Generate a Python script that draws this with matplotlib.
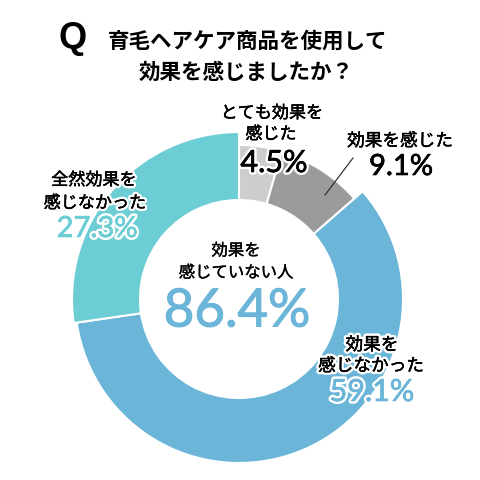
import matplotlib
matplotlib.use("Agg")
import matplotlib.pyplot as plt
import matplotlib.patheffects as pe

plt.rcParams['font.family'] = ['Noto Sans CJK JP', 'DejaVu Sans']

# data
categories = ["とても効果を感じた", "効果を感じた", "効果を感じなかった", "全然効果を感じなかった"]
values = [4.5, 9.1, 59.1, 27.3]
colors = ["#cdcdcd", "#9b9b9b", "#6bb5d8", "#6dcdd4"]
total_not = 86.4

# each slice has its own outer radius (px)
outer_r = [154, 153, 164, 167]
inner_r = 99
cx, cy = 239, 480 - 299

fig = plt.figure(figsize=(4.8, 4.8), dpi=100)
ax = fig.add_axes([0, 0, 1, 1])

for i, r in enumerate(outer_r):
    wedges, _ = ax.pie(values, radius=r, center=(cx, cy), startangle=90,
                       counterclock=False, colors=colors,
                       wedgeprops=dict(width=r - inner_r, edgecolor="white", linewidth=1.5))
    for j, w in enumerate(wedges):
        w.set_visible(j == i)

ax.set_xlim(0, 480)
ax.set_ylim(0, 480)
ax.set_aspect("equal")
ax.axis("off")


def Y(y):
    return 480 - y


def fx(color="black", white=True, bold=0.25):
    # white halo + slight thickening in the text colour
    eff = []
    if white:
        eff.append(pe.withStroke(linewidth=3.5 + bold, foreground="white"))
    eff += [pe.Stroke(linewidth=bold, foreground=color), pe.Normal()]
    return eff


num_font = ["Lato", "DejaVu Sans"]

# title
ax.text(73, Y(38), "Q", fontsize=26, fontweight="bold", family=["Liberation Sans"],
        ha="center", va="center")
ax.text(248, Y(41), "育毛ヘアケア商品を使用して", fontsize=15.5, fontweight="bold",
        ha="center", va="center")
ax.text(246, Y(72), "効果を感じましたか？", fontsize=15.5, fontweight="bold",
        ha="center", va="center")

# とても効果を感じた
ax.text(272, Y(113), "とても効果を", fontsize=12.3, ha="center", va="center", path_effects=fx())
ax.text(271, Y(134), "感じた", fontsize=12.3, ha="center", va="center", path_effects=fx())
ax.text(274, Y(163), f"{values[0]}%", fontsize=22, family=num_font, ha="center", va="center",
        path_effects=fx(bold=0.45))

# 効果を感じた
ax.text(400, Y(141), "効果を感じた", fontsize=12.7, ha="center", va="center", path_effects=fx())
ax.text(401, Y(167), f"{values[1]}%", fontsize=21, family=num_font, ha="center", va="center",
        path_effects=fx(bold=0.45))
ax.plot([353, 325], [Y(158), Y(195)], color="#222222", lw=0.8)

# 全然効果を感じなかった
ax.text(94, Y(180), "全然効果を", fontsize=12.3, ha="center", va="center", path_effects=fx())
ax.text(95, Y(203), "感じなかった", fontsize=12.3, ha="center", va="center", path_effects=fx())
ax.text(97, Y(229), f"{values[3]}%", fontsize=21, family=num_font, color=colors[3],
        ha="center", va="center", path_effects=fx(colors[3], bold=0.45))

# 効果を感じなかった
ax.text(372, Y(345), "効果を", fontsize=12.7, ha="center", va="center", path_effects=fx())
ax.text(371, Y(366), "感じなかった", fontsize=12.7, ha="center", va="center", path_effects=fx())
ax.text(372, Y(392), f"{values[2]}%", fontsize=22, family=num_font, color=colors[2],
        ha="center", va="center", path_effects=fx(colors[2], bold=0.45))

# center
ax.text(236, Y(251), "効果を", fontsize=11.8, ha="center", va="center",
        path_effects=fx(white=False))
ax.text(236, Y(273), "感じていない人", fontsize=11.8, ha="center", va="center",
        path_effects=fx(white=False))
ax.text(237, Y(312), f"{total_not}%", fontsize=38, family=num_font, color=colors[2],
        ha="center", va="center", path_effects=fx(colors[2], white=False, bold=0.8))

fig.savefig("out.png", dpi=100)
